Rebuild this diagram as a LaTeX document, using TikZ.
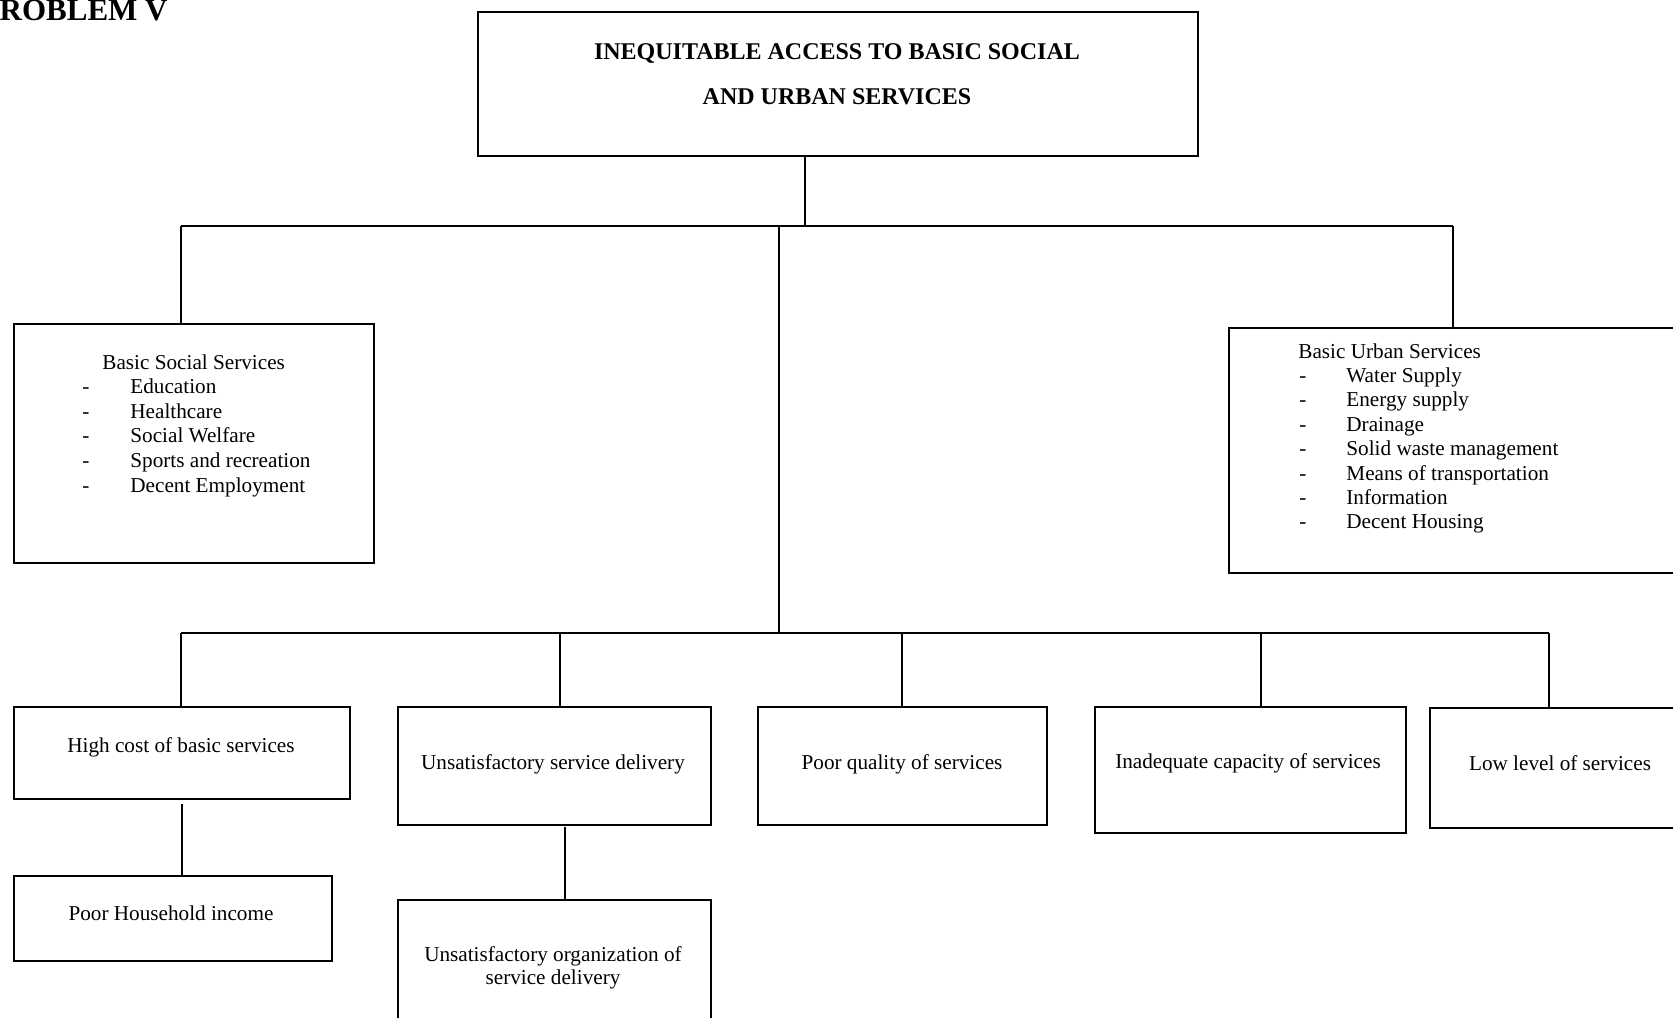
\documentclass[tikz,border=0pt]{standalone}
\usepackage{fontspec}
\setmainfont{Liberation Serif}
\begin{document}
\begin{tikzpicture}[x=0.5pt,y=-0.5pt,
  box/.style={draw, line width=1pt, rectangle, inner sep=0pt, anchor=north west},
  link/.style={line width=1pt},
  body/.style={inner sep=0pt, font=\fontsize{10.6pt}{12.2pt}\selectfont},
  head/.style={inner sep=0pt, font=\fontsize{12pt}{14pt}\selectfont\bfseries, anchor=base},
]
\useasboundingbox (0,0) rectangle (1673,1017);

% heading cut at the page edge
\node[inner sep=0pt, anchor=base east, font=\fontsize{15.5pt}{18pt}\selectfont\bfseries] (title) at (168,20) {PROBLEM V};

% core problem
\node[box, minimum width=360pt, minimum height=72pt] (top) at (477,11) {};
\node[head] (top1) at (837,59) {INEQUITABLE ACCESS TO BASIC SOCIAL};
\node[head] (top2) at (837,104) {AND URBAN SERVICES};

% service groups
\node[box, minimum width=180pt, minimum height=119.5pt] (social) at (13,323) {};
\node[body, anchor=base west] (socialhead) at (102,369) {Basic Social Services};
\foreach \t [count=\i] in {Education, Healthcare, Social Welfare, Sports and recreation, Decent Employment} {
  \node[body, anchor=base west] (sd\i) at (82,369+24.6*\i) {-};
  \node[body, anchor=base west] (si\i) at (130,369+24.6*\i) {\t};
}

\node[box, minimum width=236pt, minimum height=122.5pt] (urban) at (1228,327) {};
\node[body, anchor=base west] (urbanhead) at (1298,358) {Basic Urban Services};
\foreach \t [count=\i] in {Water Supply, Energy supply, Drainage, Solid waste management, Means of transportation, Information, Decent Housing} {
  \node[body, anchor=base west] (ud\i) at (1299,358+24.4*\i) {-};
  \node[body, anchor=base west] (ui\i) at (1346,358+24.4*\i) {\t};
}

% causes
\node[box, minimum width=168pt, minimum height=46pt] (cost) at (13,706) {};
\node[body, anchor=base] (costt) at (181,752) {High cost of basic services};
\node[box, minimum width=156.5pt, minimum height=59pt] (deliv) at (397,706) {};
\node[body, anchor=base] (delivt) at (553,769) {Unsatisfactory service delivery};
\node[box, minimum width=144.5pt, minimum height=59pt] (qual) at (757,706) {};
\node[body, anchor=base] (qualt) at (902,769) {Poor quality of services};
\node[box, minimum width=155.5pt, minimum height=63pt] (capa) at (1094,706) {};
\node[body, anchor=base] (capat) at (1248,768) {Inadequate capacity of services};
\node[box, minimum width=131pt, minimum height=60pt] (low) at (1429,707) {};
\node[body, anchor=base] (lowt) at (1560,770) {Low level of services};

% sub-causes
\node[box, minimum width=159pt, minimum height=42.5pt] (income) at (13,875) {};
\node[body, anchor=base] (incomet) at (171,920) {Poor Household income};
\node[box, minimum width=156.5pt, minimum height=66pt] (org) at (397,899) {};
\node[body, anchor=base] (org1) at (553,961) {Unsatisfactory organization of};
\node[body, anchor=base] (org2) at (553,984) {service delivery};

% junctions
\coordinate (jtop) at (805,226);
\coordinate (jl) at (181,226);
\coordinate (jr) at (1453,226);
\coordinate (jc) at (779,226);
\coordinate (jcb) at (779,633);
\coordinate (bl) at (181,633);
\coordinate (b2) at (560,633);
\coordinate (b3) at (902,633);
\coordinate (b4) at (1261,633);
\coordinate (br) at (1549,633);

% upper tree
\draw[link] (top.south -| jtop) -- (jtop);
\draw[link] (jl) -- (jr);
\draw[link] (jl) -- (social.north -| jl);
\draw[link] (jr) -- (urban.north -| jr);
\draw[link] (jc) -- (jcb);

% lower tree
\draw[link] (bl) -- (br);
\draw[link] (bl) -- (cost.north -| bl);
\draw[link] (b2) -- (deliv.north -| b2);
\draw[link] (b3) -- (qual.north -| b3);
\draw[link] (b4) -- (capa.north -| b4);
\draw[link] (br) -- (low.north -| br);

% second level
\draw[link] (cost.south) ++(0,4) coordinate (cs) -- (income.north -| cs);
\coordinate (ds) at (565,827);
\draw[link] (ds) -- (org.north -| ds);
\end{tikzpicture}
\end{document}
